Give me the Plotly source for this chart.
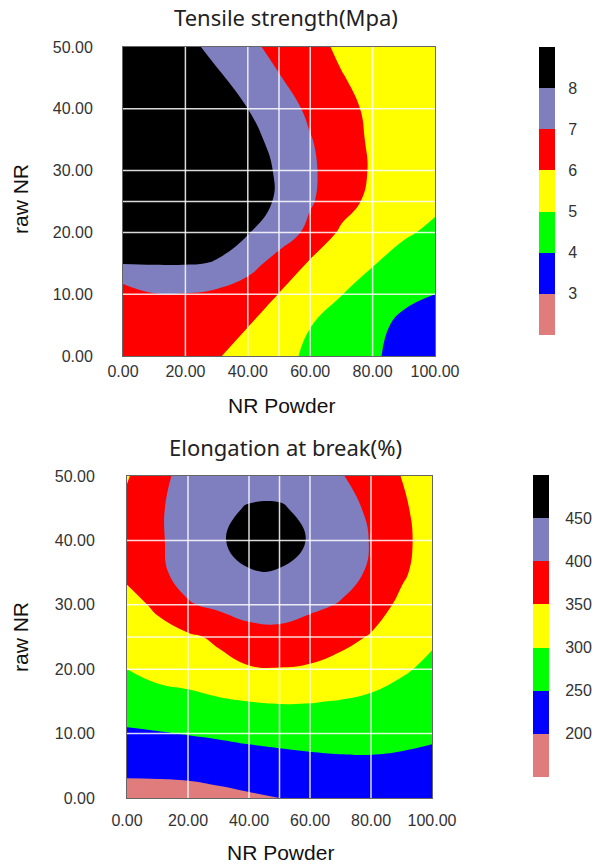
import plotly.graph_objects as go

# ---------------- data ----------------
nr_powder = [0, 10, 20, 30, 40, 50, 60, 70, 80, 90, 100]
raw_nr = [0, 5, 10, 15, 20, 25, 30, 35, 40, 45, 50]

# Tensile strength (MPa), rows = raw_nr, cols = nr_powder
tensile = [
    [6.30, 6.40, 6.30, 6.08, 5.60, 5.25, 4.85, 4.45, 4.12, 3.70, 3.35],
    [6.45, 6.60, 6.55, 6.35, 6.03, 5.55, 5.02, 4.60, 4.25, 3.80, 3.55],
    [6.50, 6.97, 6.97, 6.80, 6.45, 5.98, 5.50, 5.02, 4.60, 4.20, 4.00],
    [8.03, 8.05, 8.05, 7.97, 7.40, 6.60, 5.90, 5.40, 5.05, 4.70, 4.40],
    [8.50, 8.45, 8.35, 8.20, 8.05, 7.55, 6.75, 5.85, 5.35, 5.10, 4.85],
    [8.75, 8.70, 8.55, 8.40, 8.18, 7.95, 7.10, 6.40, 5.75, 5.40, 5.15],
    [8.85, 8.80, 8.65, 8.45, 8.20, 7.95, 7.15, 6.50, 5.90, 5.55, 5.40],
    [8.90, 8.80, 8.65, 8.45, 8.20, 7.80, 7.05, 6.45, 5.85, 5.55, 5.45],
    [8.85, 8.75, 8.55, 8.30, 8.00, 7.45, 6.82, 6.30, 5.80, 5.55, 5.45],
    [8.80, 8.65, 8.40, 8.12, 7.70, 7.05, 6.50, 6.05, 5.70, 5.50, 5.40],
    [8.70, 8.50, 8.22, 7.78, 7.20, 6.75, 6.28, 5.85, 5.55, 5.40, 5.30],
]

# Elongation at break (%), rows = raw_nr, cols = nr_powder
elongation = [
    [184, 184, 185, 189, 194, 200, 206, 210, 214, 216, 216],
    [210, 211, 213, 218, 226, 232, 236, 240, 241, 240, 238],
    [242, 247, 252, 257, 262, 265, 268, 268, 267, 262, 256],
    [283, 285, 285, 294, 300, 303, 302, 298, 292, 282, 268],
    [300, 312, 325, 337, 346, 348, 345, 336, 322, 306, 290],
    [312, 330, 343, 357, 380, 385, 375, 362, 347, 325, 307],
    [330, 360, 396, 410, 422, 422, 410, 397, 368, 342, 318],
    [362, 390, 418, 437, 448, 448, 438, 418, 394, 356, 330],
    [365, 392, 425, 446, 462, 462, 448, 425, 398, 358, 336],
    [362, 393, 422, 440, 453, 454, 440, 418, 392, 356, 332],
    [346, 390, 412, 425, 432, 432, 425, 403, 380, 349, 325],
]

tensile_levels = [2, 3, 4, 5, 6, 7, 8, 9]
elong_levels = [150, 200, 250, 300, 350, 400, 450, 500]
band_colors = ["#E07C7C", "#0000FF", "#00FF00", "#FFFF00", "#FF0000", "#7F7FBF", "#000000"]

x_ticks = [0, 20, 40, 60, 80, 100]
y_ticks = [0, 10, 20, 30, 40, 50]
x_grid = [20, 40, 50, 60, 80]
y_grid = [10, 20, 25, 30, 40]

# ---------------- helpers ----------------
W, H = 592, 866


def px_x(a, b):
    return [a / W, b / W]


def px_y(top, bottom):
    return [1 - bottom / H, 1 - top / H]


def contour_scale(colors):
    n = len(colors) - 1
    scale = []
    for i, c in enumerate(colors):
        lo = max(0.0, (i - 0.5) / n)
        hi = min(1.0, (i + 0.5) / n)
        scale.append([lo, c])
        scale.append([hi, c])
    return scale


def bar_scale(colors):
    n = len(colors)
    scale = []
    for i, c in enumerate(colors):
        scale.append([i / n, c])
        scale.append([(i + 1) / n, c])
    return scale


tick_font = dict(family="Liberation Sans, Arial", size=16, color="#333333")
title_font = dict(family="Noto Sans, Open Sans", size=22, color="#222222")
axis_title_font = dict(family="Liberation Sans, Arial", size=21, color="#111111")

fig = go.Figure()

# main contours
for z, levels, xa, ya in [
    (tensile, tensile_levels, "x", "y"),
    (elongation, elong_levels, "x2", "y2"),
]:
    step = levels[1] - levels[0]
    fig.add_trace(go.Contour(
        x=nr_powder, y=raw_nr, z=z,
        xaxis=xa, yaxis=ya,
        colorscale=contour_scale(band_colors),
        contours=dict(start=levels[1], end=levels[-2], size=step,
                      coloring="fill", showlines=False),
        line=dict(width=0, smoothing=1.3),
        showscale=False, hoverinfo="skip",
    ))

# color bars drawn as single-column heatmaps
for levels, xa, ya in [
    (tensile_levels, "x3", "y3"),
    (elong_levels, "x4", "y4"),
]:
    centers = [(levels[i] + levels[i + 1]) / 2 for i in range(len(levels) - 1)]
    fig.add_trace(go.Heatmap(
        x=[0], y=centers, z=[[c] for c in centers],
        xaxis=xa, yaxis=ya,
        zmin=levels[0], zmax=levels[-1],
        colorscale=bar_scale(band_colors),
        showscale=False, hoverinfo="skip",
    ))

main_x = dict(range=[0, 100], tickvals=x_ticks, tickformat=".2f",
              showgrid=False, zeroline=False, showline=True, mirror=True,
              linecolor="#666666", linewidth=1, ticks="outside",
              tickcolor="rgba(0,0,0,0)", tickfont=tick_font, automargin=False)
main_y = dict(range=[0, 50], tickvals=y_ticks, tickformat=".2f",
              showgrid=False, zeroline=False, showline=True, mirror=True,
              linecolor="#666666", linewidth=1, ticks="outside",
              tickcolor="rgba(0,0,0,0)", ticklen=26, tickfont=tick_font,
              automargin=False)
bar_y = dict(side="right", showgrid=False, zeroline=False, showline=False,
             ticks="outside", tickcolor="rgba(0,0,0,0)",
             tickfont=tick_font, automargin=False)

fig.update_layout(
    width=W, height=H,
    margin=dict(l=0, r=0, t=0, b=0, pad=0, autoexpand=False),
    paper_bgcolor="white", plot_bgcolor="white",
    showlegend=False,
    xaxis=dict(main_x, domain=px_x(123, 435), anchor="y", ticklen=1),
    yaxis=dict(main_y, domain=px_y(47, 356), anchor="x"),
    xaxis2=dict(main_x, domain=px_x(127, 432), anchor="y2", ticklen=8),
    yaxis2=dict(main_y, domain=px_y(476, 798), anchor="x2", ticklen=28),
    xaxis3=dict(domain=px_x(539, 555), anchor="y3", range=[-0.5, 0.5],
                visible=False, automargin=False),
    yaxis3=dict(bar_y, domain=px_y(47, 335), anchor="x3", ticklen=9,
                range=[tensile_levels[0], tensile_levels[-1]],
                tickvals=tensile_levels[1:-1]),
    xaxis4=dict(domain=px_x(533, 549), anchor="y4", range=[-0.5, 0.5],
                visible=False, automargin=False),
    yaxis4=dict(bar_y, domain=px_y(475, 777), anchor="x4", ticklen=12,
                range=[elong_levels[0], elong_levels[-1]],
                tickvals=elong_levels[1:-1]),
)

# white grid lines over the filled contours
grid_style = dict(color="rgba(255,255,255,0.85)", width=1.5)
for xa, ya in [("x", "y"), ("x2", "y2")]:
    for gx in x_grid:
        fig.add_shape(type="line", xref=xa, yref=ya + " domain", x0=gx, x1=gx,
                      y0=0, y1=1, line=grid_style, layer="above")
    for gy in y_grid:
        fig.add_shape(type="line", xref=xa + " domain", yref=ya, x0=0, x1=1,
                      y0=gy, y1=gy, line=grid_style, layer="above")

# titles and axis titles
texts = [
    ("Tensile strength(Mpa)", 286, 17, title_font, 0),
    ("Elongation at break(%)", 285, 447, title_font, 0),
    ("NR Powder", 281, 405, axis_title_font, 0),
    ("NR Powder", 280, 852, axis_title_font, 0),
    ("raw NR", 20, 199, axis_title_font, -90),
    ("raw NR", 20, 637, axis_title_font, -90),
]
for t, x, y, f, ang in texts:
    fig.add_annotation(text=t, x=x / W, y=1 - y / H, xref="paper", yref="paper",
                       showarrow=False, xanchor="center", yanchor="middle",
                       font=f, textangle=ang)

fig.write_html(
    "out.html",
    config={"displayModeBar": False},
    post_script="document.body.style.margin='0px';"
                "document.body.style.overflow='hidden';",
)
